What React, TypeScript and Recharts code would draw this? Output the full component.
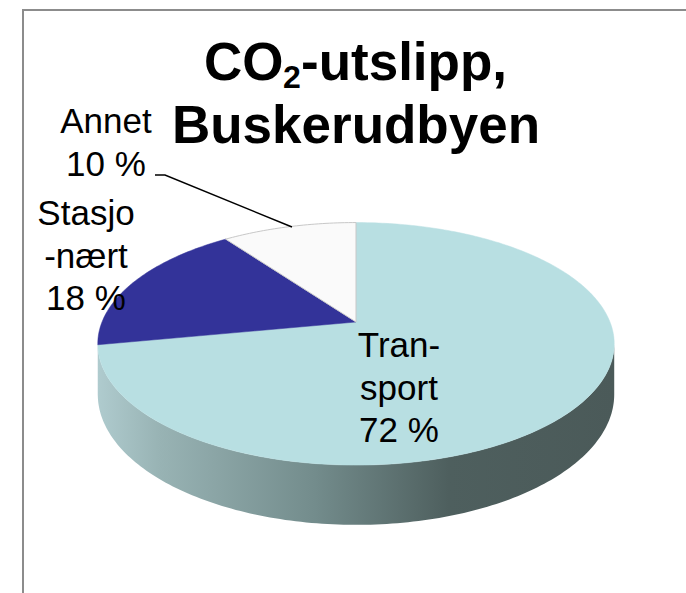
import { PieChart, Pie } from "recharts";

// CO2-utslipp, Buskerudbyen (andel i %)
const categories = ["Transport", "Stasjonært", "Annet"];
const shares = [72, 18, 10];
// line breaks as in the original labels
const labelLines = [["Tran-", "sport"], ["Stasjo", "-nært"], ["Annet"]];

const data = categories.map((name, i) => ({ name, value: shares[i] }));

const topColors = ["#b8dfe2", "#333399", "#fafafa"];
const sideColors = ["url(#sideGrad)", "#22226b", "#cfcfcf"];

const labelPos: Record<string, { x: number; y: number }> = {
  Transport: { x: 399, y: 357 },
  Stasjonært: { x: 86, y: 225 },
  Annet: { x: 106, y: 133 },
};

const FONT = "Arial, 'Liberation Sans', sans-serif";
const TILT = 0.462; // vertical squash of the disc
const PERSP = 0.18; // front edge a bit larger than back edge
const DEPTH = 49; // thickness of the disc
const VIS = (Math.asin(PERSP) * 180) / Math.PI;

function project(cx: number, cy: number, r: number, angle: number, drop = 0) {
  const rad = (angle * Math.PI) / 180;
  const u = Math.cos(rad);
  const v = -Math.sin(rad);
  const k = 1 / (1 - PERSP * v);
  return [cx + r * u * k, cy + r * TILT * v * k + drop * k];
}

function arcPoints(cx: number, cy: number, r: number, a: number, b: number, drop = 0) {
  const n = Math.max(2, Math.ceil(Math.abs(b - a)));
  const pts: number[][] = [];
  for (let i = 0; i <= n; i++) pts.push(project(cx, cy, r, a + ((b - a) * i) / n, drop));
  return pts;
}

const toPath = (pts: number[][]) =>
  pts.map((p, i) => `${i ? "L" : "M"}${p[0].toFixed(2)},${p[1].toFixed(2)}`).join(" ");

function renderSide(props: any) {
  const { cx, cy, outerRadius, startAngle, endAngle, index } = props;
  const lo = Math.max(Math.min(startAngle, endAngle), -180 + VIS);
  const hi = Math.min(Math.max(startAngle, endAngle), -VIS);
  const defs =
    index === 0 ? (
      <defs>
        <linearGradient id="sideGrad" gradientUnits="userSpaceOnUse" x1={98} y1={0} x2={614} y2={0}>
          <stop offset="0%" stopColor="#afcbce" />
          <stop offset="12%" stopColor="#98b3b4" />
          <stop offset="42%" stopColor="#738c8c" />
          <stop offset="68%" stopColor="#4e5f5e" />
          <stop offset="100%" stopColor="#4b5a59" />
        </linearGradient>
      </defs>
    ) : null;
  if (hi - lo < 0.05) return <g key={`side-${index}`}>{defs}</g>;
  const top = arcPoints(cx, cy, outerRadius, lo, hi);
  const bottom = arcPoints(cx, cy, outerRadius, hi, lo, DEPTH);
  return (
    <g key={`side-${index}`}>
      {defs}
      <path d={toPath([...top, ...bottom]) + " Z"} fill={sideColors[index]} stroke="none" />
    </g>
  );
}

function renderTop(props: any) {
  const { cx, cy, outerRadius, startAngle, endAngle, index, name, percent } = props;
  const pts = arcPoints(cx, cy, outerRadius, startAngle, endAngle);
  const d = `M${cx},${cy} ` + toPath(pts).replace(/^M/, "L") + " Z";
  const pos = labelPos[name];
  const lines = [...labelLines[index], `${Math.round(percent * 100)} %`];
  return (
    <g key={`top-${index}`}>
      <path
        d={d}
        fill={topColors[index]}
        stroke={index === 2 ? "#c8c8c8" : topColors[index]}
        strokeWidth={index === 2 ? 1 : 0.5}
      />
      <text x={pos.x} y={pos.y} textAnchor="middle" fontFamily={FONT} fontSize={35} fill="#000">
        {lines.map((t, i) => (
          <tspan key={i} x={pos.x} dy={i === 0 ? 0 : 42.5}>
            {t}
          </tspan>
        ))}
      </text>
      {name === "Annet" && (
        <polyline points="155,175 165,175 292,227" fill="none" stroke="#000" strokeWidth={1.5} />
      )}
    </g>
  );
}

export default function App() {
  return (
    <div style={{ position: "fixed", left: 0, top: 0, width: 686, height: 593, background: "#fff", overflow: "hidden" }}>
      <div
        style={{
          position: "absolute",
          left: 22,
          top: 9,
          width: 700,
          height: 620,
          borderLeft: "2px solid #8c8c8c",
          borderTop: "2px solid #8c8c8c",
        }}
      />
      <div style={{ position: "absolute", left: 0, top: 0 }}>
        <PieChart width={686} height={593} margin={{ top: 0, right: 0, bottom: 0, left: 0 }}>
          <Pie
            data={data}
            dataKey="value"
            nameKey="name"
            cx={356}
            cy={322}
            outerRadius={254}
            startAngle={90}
            endAngle={-270}
            fill="none"
            stroke="none"
            label={renderSide}
            labelLine={false}
            isAnimationActive={false}
          />
          <Pie
            data={data}
            dataKey="value"
            nameKey="name"
            cx={356}
            cy={322}
            outerRadius={254}
            startAngle={90}
            endAngle={-270}
            fill="none"
            stroke="none"
            label={renderTop}
            labelLine={false}
            isAnimationActive={false}
          />
        </PieChart>
      </div>
      <svg width={686} height={593} style={{ position: "absolute", left: 0, top: 0, pointerEvents: "none" }}>
        <g fontFamily={FONT} fontWeight="bold" fill="#000">
          <text x={204} y={80} fontSize={53}>
            CO
          </text>
          <text x={283} y={88} fontSize={32}>
            2
          </text>
          <text x={301} y={80} fontSize={53}>
            -utslipp,
          </text>
          <text x={356} y={143} textAnchor="middle" fontSize={53}>
            Buskerudbyen
          </text>
        </g>
      </svg>
    </div>
  );
}
